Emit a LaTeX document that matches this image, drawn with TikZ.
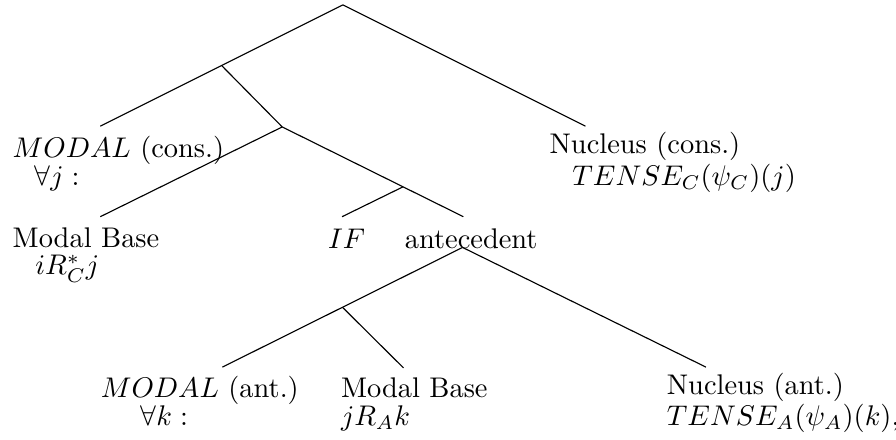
\documentclass[tikz,border=0pt]{standalone}
\usepackage{amsmath}
\usepackage{tikz}
\usetikzlibrary{positioning, calc}

\begin{document}
\begin{tikzpicture}[line width=0.4pt]
        \tikzset{leaf/.style={anchor=base west,inner sep=0pt,align=left,font=\fontsize{10}{9.8}\selectfont}}
        % Page size with its margins
        \useasboundingbox (0,0) rectangle (11.08,-5.44);

        % Branching points and branch ends
        \coordinate (root) at (4.24,-0.06);
        \coordinate (mc) at (1.24,-1.56);
        \coordinate (nc) at (7.24,-1.56);
        \coordinate (sc) at ($(root)!0.5!(mc)$);
        \coordinate (rc) at (3.49,-1.57);
        \coordinate (mb) at (1.24,-2.68);
        \coordinate (an) at (5.73,-2.68);
        \coordinate (sa) at ($(rc)!0.667!(an)$);
        \coordinate (if) at (4.23,-2.68);
        \coordinate (ab) at (5.72,-3.06);
        \coordinate (ma) at (2.75,-4.54);
        \coordinate (ba) at (4.99,-4.55);
        \coordinate (na) at (8.73,-4.54);
        \coordinate (sb) at ($(ab)!0.5!(ma)$);

        % Leaves (anchored on the baseline of their last line)
        \node[leaf] (modal_c) at (0.15,-2.29) {$MODAL$ (cons.)\\\hspace{7.7pt}$\forall j:$};
        \node[leaf] (nucleus_c) at (6.79,-2.29) {Nucleus (cons.)\\\hspace{8pt}$TENSE_C(\psi_C)(j)$};
        \node[leaf] (base_c) at (0.15,-3.40) {Modal Base\\\hspace{8pt}$iR^*_Cj$};
        \node[leaf] (if_c) at (4.05,-3.07) {$IF$};
        \node[leaf] (ante) at (5.00,-3.07) {antecedent};
        \node[leaf] (modal_a) at (1.24,-5.26) {$MODAL$ (ant.)\\\hspace{14pt}$\forall k:$};
        \node[leaf] (base_a) at (4.21,-5.26) {Modal Base\\$jR_Ak$};
        \node[leaf] (nucleus_a) at (8.24,-5.26) {Nucleus (ant.)\\$TENSE_A(\psi_A)(k)$,};

        \path
        (root) edge (mc)
        (root) edge (nc)
        (sc) edge (rc)
        (rc) edge (mb)
        (rc) edge (an)
        (sa) edge (if)

        (ab) edge (ma)
        (ab) edge (na)
        (sb) edge (ba);
    \end{tikzpicture}
\end{document}
